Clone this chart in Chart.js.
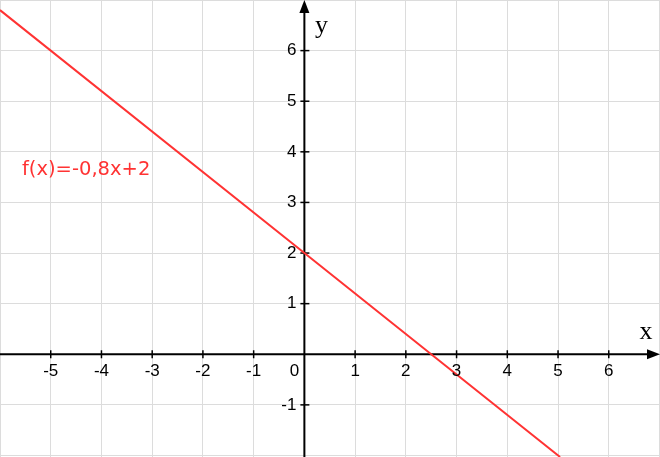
<!DOCTYPE html>
<html>
<head>
<meta charset="utf-8">
<script src="https://cdn.jsdelivr.net/npm/chart.js@4/dist/chart.umd.min.js"></script>
<style>
  html, body { margin: 0; padding: 0; background: #fff; }
  #wrap { width: 660px; height: 457px; position: relative; }
</style>
</head>
<body>
<div id="wrap"><canvas id="grafico"></canvas></div>
<script>
// Pontos: f(x) = -0,8x + 2
const pontosX = [-6, 0, 2.5, 5.04];
const pontosY = [6.8, 2, 0, -2.03];

// Ticks dos eixos
const ticksX = [-6, -5, -4, -3, -2, -1, 0, 1, 2, 3, 4, 5, 6, 7];
const ticksY = [-2, -1, 0, 1, 2, 3, 4, 5, 6, 7];
const rotulosX = [-5, -4, -3, -2, -1, 1, 2, 3, 4, 5, 6];
const rotulosY = [-1, 1, 2, 3, 4, 5, 6];

const rotuloFuncao = 'f(x)=-0,8x+2';
const corLinha = '#ff3333';

// Desenha eixos com setas, marcas e numeros
const eixosPlugin = {
    id: 'eixos',
    beforeDatasetsDraw(chart) {
        const ctx = chart.ctx;
        const sx = chart.scales.x;
        const sy = chart.scales.y;
        const x0 = sx.getPixelForValue(0);
        const y0 = sy.getPixelForValue(0);
        const area = chart.chartArea;

        ctx.save();
        ctx.strokeStyle = '#000';
        ctx.fillStyle = '#000';
        ctx.lineWidth = 2;

        // eixo x
        ctx.beginPath();
        ctx.moveTo(area.left, y0);
        ctx.lineTo(area.right - 8, y0);
        ctx.stroke();
        ctx.beginPath();
        ctx.moveTo(area.right, y0);
        ctx.lineTo(area.right - 13, y0 - 5);
        ctx.lineTo(area.right - 13, y0 + 5);
        ctx.closePath();
        ctx.fill();

        // eixo y
        ctx.beginPath();
        ctx.moveTo(x0, area.bottom);
        ctx.lineTo(x0, area.top + 8);
        ctx.stroke();
        ctx.beginPath();
        ctx.moveTo(x0, area.top);
        ctx.lineTo(x0 - 5, area.top + 13);
        ctx.lineTo(x0 + 5, area.top + 13);
        ctx.closePath();
        ctx.fill();

        // marcas
        ctx.lineWidth = 1.5;
        ticksX.filter(v => v !== 0 && v > -6 && v < 7).forEach(v => {
            const px = sx.getPixelForValue(v);
            ctx.beginPath();
            ctx.moveTo(px, y0 - 4);
            ctx.lineTo(px, y0 + 4);
            ctx.stroke();
        });
        ticksY.filter(v => v !== 0 && v > -2 && v < 7).forEach(v => {
            const py = sy.getPixelForValue(v);
            ctx.beginPath();
            ctx.moveTo(x0 - 4, py);
            ctx.lineTo(x0 + 5, py);
            ctx.stroke();
        });
        ctx.restore();
    },
    afterDraw(chart) {
        const ctx = chart.ctx;
        const sx = chart.scales.x;
        const sy = chart.scales.y;
        const x0 = sx.getPixelForValue(0);
        const y0 = sy.getPixelForValue(0);

        ctx.save();
        ctx.fillStyle = '#000';
        ctx.font = '17px "Liberation Sans", Arial, sans-serif';
        ctx.textBaseline = 'middle';

        ctx.textAlign = 'center';
        rotulosX.forEach(v => {
            ctx.fillText(String(v), sx.getPixelForValue(v), y0 + 17);
        });
        ctx.fillText('0', x0 - 10, y0 + 17);

        ctx.textAlign = 'right';
        rotulosY.forEach(v => {
            ctx.fillText(String(v), x0 - 8, sy.getPixelForValue(v));
        });

        // nomes dos eixos
        ctx.font = '26px "Liberation Serif", "Times New Roman", serif';
        ctx.textAlign = 'center';
        ctx.fillText('x', 646, y0 - 22);
        ctx.fillText('y', x0 + 17, 26);

        // rotulo da funcao
        ctx.fillStyle = corLinha;
        ctx.font = '19.5px "DejaVu Sans", sans-serif';
        ctx.textAlign = 'left';
        ctx.fillText(rotuloFuncao, 22, 170);
        ctx.restore();
    }
};

const ctx = document.getElementById('grafico').getContext('2d');
new Chart(ctx, {
    type: 'scatter',
    data: {
        datasets: [{
            label: rotuloFuncao,
            data: pontosX.map((x, i) => ({ x: x, y: pontosY[i] })),
            showLine: true,
            borderColor: corLinha,
            borderWidth: 2,
            pointRadius: 0,
            fill: false
        }]
    },
    options: {
        responsive: true,
        maintainAspectRatio: false,
        animation: false,
        layout: { padding: 0 },
        plugins: {
            legend: { display: false },
            tooltip: { enabled: false }
        },
        scales: {
            x: {
                type: 'linear',
                min: -6,
                max: 7.01,
                afterBuildTicks: (scale) => { scale.ticks = ticksX.map(v => ({ value: v })); },
                ticks: { display: false },
                grid: { color: '#dcdcdc', lineWidth: 1, drawTicks: false },
                border: { display: false }
            },
            y: {
                type: 'linear',
                min: -2.03,
                max: 7.0,
                afterBuildTicks: (scale) => { scale.ticks = ticksY.map(v => ({ value: v })); },
                ticks: { display: false },
                grid: { color: '#dcdcdc', lineWidth: 1, drawTicks: false },
                border: { display: false }
            }
        }
    },
    plugins: [eixosPlugin]
});
</script>
</body>
</html>
